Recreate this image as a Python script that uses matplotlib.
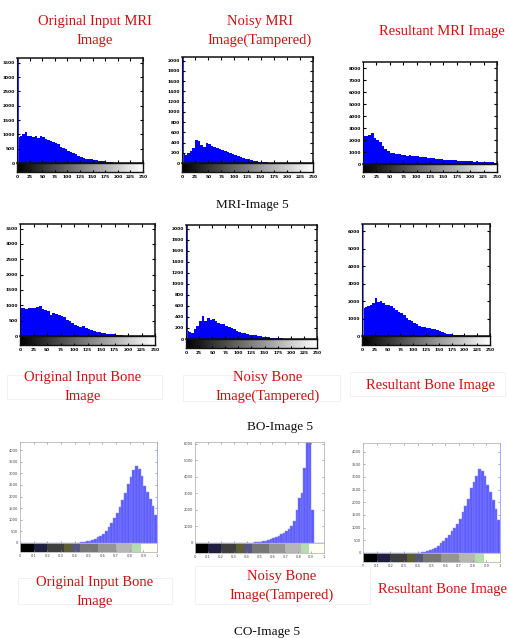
import numpy as np
import matplotlib
matplotlib.use('Agg')
import matplotlib.pyplot as plt
from matplotlib.patches import Rectangle

# ---------------- data ----------------
# MRI histograms: 50 bins of width 5 over 0..250 (heights in tick units)
mri_edges = np.arange(0, 255, 5)
mri_xticks = [0, 25, 50, 75, 100, 125, 150, 175, 200, 225, 250]

mri1_orig = [1.8, 1.9, 2.0, 2.15, 1.9, 1.85, 1.8, 1.85, 1.75, 1.85,
             1.8, 1.7, 1.6, 1.55, 1.45, 1.4, 1.3, 1.15, 1.05, 0.95,
             0.85, 0.75, 0.7, 0.6, 0.5, 0.4, 0.35, 0.3, 0.28, 0.25,
             0.23, 0.2, 0.16, 0.14, 0.12, 0.1, 0.07, 0.05, 0.02, 0,
             0, 0, 0, 0, 0, 0, 0, 0, 0, 0]
mri1_noisy = [1.0, 0.8, 1.0, 1.2, 1.5, 2.2, 2.1, 1.8, 1.6, 2.0,
              1.9, 1.7, 1.6, 1.5, 1.4, 1.3, 1.2, 1.05, 0.95, 0.85,
              0.75, 0.65, 0.6, 0.5, 0.42, 0.35, 0.25, 0.2, 0.16, 0.14,
              0.12, 0.1, 0.06, 0.03, 0, 0, 0, 0, 0, 0,
              0, 0, 0, 0, 0, 0, 0, 0, 0, 0]
mri1_result = [2.35, 2.3, 2.4, 2.55, 2.2, 2.0, 1.85, 1.5, 1.25, 1.05,
               0.95, 0.9, 0.85, 0.8, 0.78, 0.72, 0.7, 0.74, 0.68, 0.66,
               0.64, 0.62, 0.58, 0.55, 0.52, 0.5, 0.48, 0.45, 0.42, 0.4,
               0.37, 0.36, 0.33, 0.32, 0.3, 0.28, 0.26, 0.24, 0.22, 0.23,
               0.22, 0.2, 0.22, 0.19, 0.18, 0.17, 0.16, 0.15, 0.13, 0.1]
mri2_orig = [1.8, 1.82, 1.78, 1.85, 1.8, 1.83, 1.87, 1.95, 1.78, 1.7,
             1.6, 1.4, 1.5, 1.45, 1.35, 1.3, 1.22, 1.05, 0.95, 0.85,
             0.72, 0.65, 0.6, 0.62, 0.55, 0.45, 0.38, 0.3, 0.26, 0.23,
             0.2, 0.17, 0.15, 0.13, 0.1, 0.09, 0.07, 0.05, 0, 0,
             0, 0, 0, 0, 0, 0, 0, 0, 0, 0]
mri2_noisy = [0.7, 0.6, 0.55, 0.9, 1.2, 1.6, 2.1, 1.6, 1.9, 1.7,
              1.8, 1.6, 1.45, 1.4, 1.35, 1.2, 1.1, 1.0, 0.88, 0.75,
              0.62, 0.55, 0.5, 0.45, 0.4, 0.36, 0.33, 0.28, 0.25, 0.22,
              0.2, 0.16, 0.13, 0.1, 0.09, 0.08, 0.06, 0, 0, 0,
              0, 0, 0, 0, 0, 0, 0, 0, 0, 0]
mri2_result = [1.63, 1.65, 1.7, 1.77, 1.9, 2.15, 1.96, 2.0, 1.87, 1.77,
               1.8, 1.7, 1.58, 1.5, 1.38, 1.3, 1.19, 1.05, 0.9, 0.85,
               0.75, 0.7, 0.6, 0.52, 0.5, 0.48, 0.47, 0.42, 0.38, 0.35,
               0.3, 0.23, 0.17, 0.12, 0.1, 0.08, 0.08, 0.06, 0.05, 0.03,
               0, 0, 0, 0, 0, 0, 0, 0, 0, 0]
# zero-intensity spike (background) for each MRI panel
mri_spikes = [30, 30, 0, 0, 30, 30]
mri_tops = [7.33, 10.35, 8.5, 7.3, 10.36, 6.42]
mri_nticks = [8, 11, 9, 8, 11, 7]
mri_tick_step = [500, 200, 1000, 500, 200, 1000]

# Bone histograms: 50 bins of width 0.02 over 0..1 (counts)
bone_edges = np.linspace(0, 1, 51)
bone_xticks = [0, 0.1, 0.2, 0.3, 0.4, 0.5, 0.6, 0.7, 0.8, 0.9, 1]
bone_orig = [0] * 20 + [10, 20, 40, 60, 80, 100, 140, 190, 240, 290,
                        380, 500, 680, 880, 1080, 1300, 1550, 1850, 2150, 2550,
                        2850, 3150, 3300, 3200, 2900, 2450, 2200, 1900, 1600, 1200]
bone_noisy = [0] * 22 + [20, 40, 60, 80, 110, 140, 180, 230, 280, 350,
                         450, 550, 620, 700, 850, 1000, 1300, 2000, 2700, 3000,
                         4500, 7000, 7000, 2000, 0, 0, 0, 0]
bone_result = [0] * 20 + [10, 20, 40, 70, 100, 140, 200, 270, 380, 480,
                          580, 720, 860, 1000, 1150, 1350, 1600, 1850, 2150, 2550,
                          2800, 3050, 3300, 3250, 3050, 2700, 2400, 2100, 1750, 1300]
bone_tops = [4350, 6100, 4340]
bone_ystep = [500, 1000, 500]

# indexed colour bar of the bone images
bone_cb_edges = [0, 0.1, 0.2, 0.32, 0.38, 0.44, 0.57, 0.7, 0.82, 0.88, 1.0]
bone_cb_colors = ['#000000', '#1e1e40', '#3e3e3e', '#5e5e36', '#555580',
                  '#767676', '#959595', '#b6b6b6', '#b5dcb0', '#fffff2']

titles_row1 = ['Original Input MRI\nImage', 'Noisy MRI\nImage(Tampered)', 'Resultant MRI Image']
titles_row2 = ['Original Input Bone\nImage', 'Noisy Bone\nImage(Tampered)', 'Resultant Bone Image']
titles_row3 = ['Original Input Bone\nImage', 'Noisy Bone\nImage(Tampered)', 'Resultant Bone Image']
captions = ['MRI-Image 5', 'BO-Image 5', 'CO-Image 5']

# ---------------- layout (pixel boxes) ----------------
W, H = 509, 638
fig = plt.figure(figsize=(W / 100, H / 100), dpi=100)
fig.patch.set_facecolor('white')


def frect(x0, y0, x1, y1):
    return [x0 / W, 1 - y1 / H, (x1 - x0) / W, (y1 - y0) / H]


def ftext(x, y, s, **kw):
    fig.text(x / W, 1 - y / H, s, ha='center', va='center', **kw)


mri_boxes = [(17, 58, 143, 163, 172), (182, 57, 313, 163, 172), (363, 62, 497, 164, 172),
             (20, 224, 155, 336, 345), (186, 225, 317, 339, 348), (362, 224, 490, 336, 345)]
mri_data = [mri1_orig, mri1_noisy, mri1_result, mri2_orig, mri2_noisy, mri2_result]
spike_colors = ['#3030ff', '#3030ff', '#0000ff', '#0000ff', '#3030ff', '#7070ff']

for i, (x0, y0, x1, y1, yc) in enumerate(mri_boxes):
    ax = fig.add_axes(frect(x0, y0, x1, y1))
    ax.stairs(mri_data[i], mri_edges, fill=True, color='#0000ff', lw=0)
    if mri_spikes[i]:
        ax.bar([0], [mri_spikes[i]], width=4.5, align='edge', color=spike_colors[i], lw=0)
    ax.set_xlim(0, 250)
    ax.set_ylim(0, mri_tops[i])
    ax.set_xticks(mri_xticks)
    ax.set_xticklabels([])
    yt = list(range(mri_nticks[i]))
    ax.set_yticks(yt)
    ax.set_yticklabels([str(k * mri_tick_step[i]) for k in yt], fontsize=3.2,
                       fontweight='bold', color='black')
    ax.tick_params(direction='in', length=2, width=0.8, top=True, right=True, pad=1.5)
    for s in ax.spines.values():
        s.set_linewidth(1.1)
        s.set_color('#111111')
    ax.spines['left'].set_linewidth(0.8)
    # grey colour bar under the histogram
    cb = fig.add_axes(frect(x0, y1, x1, yc))
    cb.imshow(np.linspace(0, 1, 256)[None, :], cmap='gray', aspect='auto',
              extent=[0, 250, 0, 1])
    cb.set_xlim(0, 250)
    cb.set_yticks([])
    cb.set_xticks(mri_xticks)
    cb.set_xticklabels([str(v) for v in mri_xticks], fontsize=3.2, fontweight='bold')
    cb.tick_params(direction='in', length=1.5, width=0.8, pad=2)
    for s in cb.spines.values():
        s.set_linewidth(1.0)
        s.set_color('#111111')

bone_boxes = [(20, 442, 157, 543, 552), (195, 442, 324, 543, 553), (363, 443, 500, 553, 562)]
bone_data = [bone_orig, bone_noisy, bone_result]
bone_centers = (bone_edges[:-1] + bone_edges[1:]) / 2
for i, (x0, y0, x1, y1, yc) in enumerate(bone_boxes):
    ax = fig.add_axes(frect(x0, y0, x1, y1))
    ax.bar(bone_centers, bone_data[i], width=0.02, color='#5c5cff',
           edgecolor='#8c8cff', lw=0.35)
    ax.set_xlim(0, 1)
    ax.set_ylim(0, bone_tops[i])
    ax.set_xticks(bone_xticks)
    ax.set_xticklabels([])
    yt = np.arange(0, bone_tops[i], bone_ystep[i])
    ax.set_yticks(yt)
    ax.set_yticklabels([str(int(v)) for v in yt], fontsize=2.6, color='#444444')
    ax.tick_params(direction='in', length=1.5, width=0.5, top=True, right=True,
                   pad=1.5, color='#888888')
    for s in ax.spines.values():
        s.set_linewidth(0.6)
        s.set_color('#b8b8b8')
    if i != 1:
        ax.spines['right'].set_color('#9a9aff')
    cb = fig.add_axes(frect(x0, y1, x1, yc))
    lefts = bone_cb_edges[:-1]
    widths = np.diff(bone_cb_edges)
    cb.bar(lefts, [1] * len(lefts), width=widths, align='edge', color=bone_cb_colors, lw=0)
    cb.set_xlim(0, 1)
    cb.set_ylim(0, 1)
    cb.set_yticks([])
    cb.set_xticks(bone_xticks)
    cb.set_xticklabels([f'{v:g}' for v in bone_xticks], fontsize=2.6, color='#444444')
    cb.tick_params(direction='in', length=1.2, width=0.5, pad=1.5, color='#888888')
    for s in cb.spines.values():
        s.set_linewidth(0.6)
        s.set_color('#b8b8b8')

# faint text-box outlines
for (bx0, by0, bx1, by1) in [(7, 375, 162, 399), (183, 375, 340, 401), (350, 372, 505, 396),
                             (18, 578, 172, 604), (195, 566, 370, 604)]:
    fig.add_artist(Rectangle((bx0 / W, 1 - by1 / H), (bx1 - bx0) / W, (by1 - by0) / H,
                             transform=fig.transFigure, fill=False, ec='#efefef', lw=0.6))

red = '#cc1111'
tfont = dict(family='Liberation Serif', color=red, fontsize=10.5, linespacing=1.6)
for s, (x, y) in zip(titles_row1, [(95, 31), (260, 31), (442, 32)]):
    ftext(x, y, s, **tfont)
for s, (x, y) in zip(titles_row2, [(83, 387), (268, 387), (430, 386)]):
    ftext(x, y, s, **tfont)
for s, (x, y) in zip(titles_row3, [(95, 592), (282, 586), (442, 590)]):
    ftext(x, y, s, **tfont)

cfont = dict(family='Liberation Serif', color='#111111', fontsize=9.5)
for s, (x, y) in zip(captions, [(252, 205), (280, 427), (267, 632)]):
    ftext(x, y, s, **cfont)

fig.savefig('out.png', dpi=100, facecolor='white')
